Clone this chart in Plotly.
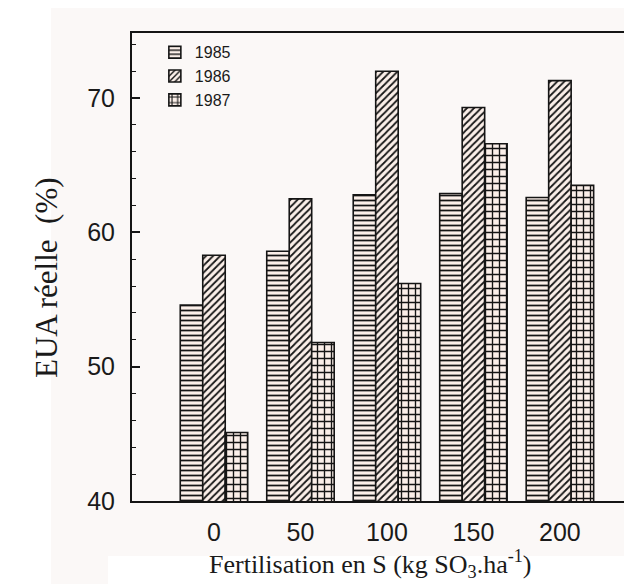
import plotly.graph_objects as go

doses = [0, 50, 100, 150, 200]
tick_labels = ["0", "50", "100", "150", "200"]
years = ["1985", "1986", "1987"]
eua_1985 = [54.6, 58.6, 62.8, 62.9, 62.6]
eua_1986 = [58.3, 62.5, 72.0, 69.3, 71.3]
eua_1987 = [45.1, 51.8, 56.2, 66.6, 63.5]
series = [eua_1985, eua_1986, eua_1987]
patterns = ["-", "/", "+"]

PW, PH, ML, MB = 508, 468, 124, 91

fig = go.Figure()
for name, vals, shp in zip(years, series, patterns):
    fig.add_trace(go.Bar(
        x=doses, y=vals, name=name, base=0,
        marker=dict(
            color="#fbefe9",
            line=dict(color="#151515", width=1.6),
            pattern=dict(shape=shp, fgcolor="#151515", bgcolor="#fbefe9",
                         size=5 if shp != "+" else 7, solidity=0.35, fillmode="replace"),
        ),
    ))

fig.update_layout(
    width=632, height=584,
    margin=dict(l=ML, r=0, t=25, b=MB),
    paper_bgcolor="#fbf8f7", plot_bgcolor="#fbf8f7",
    barmode="group", bargap=0.22, bargroupgap=0,
    font=dict(family="Liberation Sans, Arial", color="#1a1a1a"),
    showlegend=True,
    legend=dict(x=0.045, y=0.995, xanchor="left", yanchor="top",
                bgcolor="rgba(0,0,0,0)", font=dict(size=16, family="Liberation Sans"),
                itemwidth=30, tracegroupgap=0),
    shapes=[
        dict(type="rect", xref="paper", yref="paper", layer="below",
             x0=-ML / PW, x1=-81 / PW, y0=-MB / PH, y1=559 / PH,
             fillcolor="#ffffff", line=dict(width=0)),
        dict(type="rect", xref="paper", yref="paper", layer="below",
             x0=-24 / PW, x1=1, y0=-MB / PH, y1=-55 / PH,
             fillcolor="#ffffff", line=dict(width=0)),
    ],
    annotations=[
        dict(text="Fertilisation en S (kg SO<sub>3</sub>.ha<sup>-1</sup>)",
             xref="paper", yref="paper", x=(362 - ML) / PW, y=(493 - 556) / PH,
             xanchor="center", yanchor="middle", showarrow=False,
             font=dict(family="Liberation Serif, Times New Roman", size=26, color="#1a1a1a")),
        dict(text="EUA réelle  (%)", textangle=-90,
             xref="paper", yref="paper", x=(38 - ML) / PW, y=(493 - 270) / PH,
             xanchor="center", yanchor="middle", showarrow=False,
             font=dict(family="Liberation Serif, Times New Roman", size=31, color="#1a1a1a")),
    ],
    xaxis=dict(
        tickmode="array", tickvals=doses, ticktext=tick_labels,
        range=[-47.4, 246.3], showgrid=False, zeroline=False,
        showline=True, linecolor="#151515", linewidth=2, mirror=True,
        ticks="", tickfont=dict(size=25), ticklabelstandoff=8,
    ),
    yaxis=dict(
        range=[40, 74.85], tickvals=[40, 50, 60, 70], showgrid=False, zeroline=False,
        showline=True, linecolor="#151515", linewidth=2,
        ticks="inside", ticklen=8, tickwidth=1.5, tickcolor="#151515",
        minor=dict(ticks="inside", ticklen=4, tickwidth=1, dtick=2, tickcolor="#151515"),
        tickfont=dict(size=25), ticklabelstandoff=10,
    ),
)

fig.write_html("out.html")
